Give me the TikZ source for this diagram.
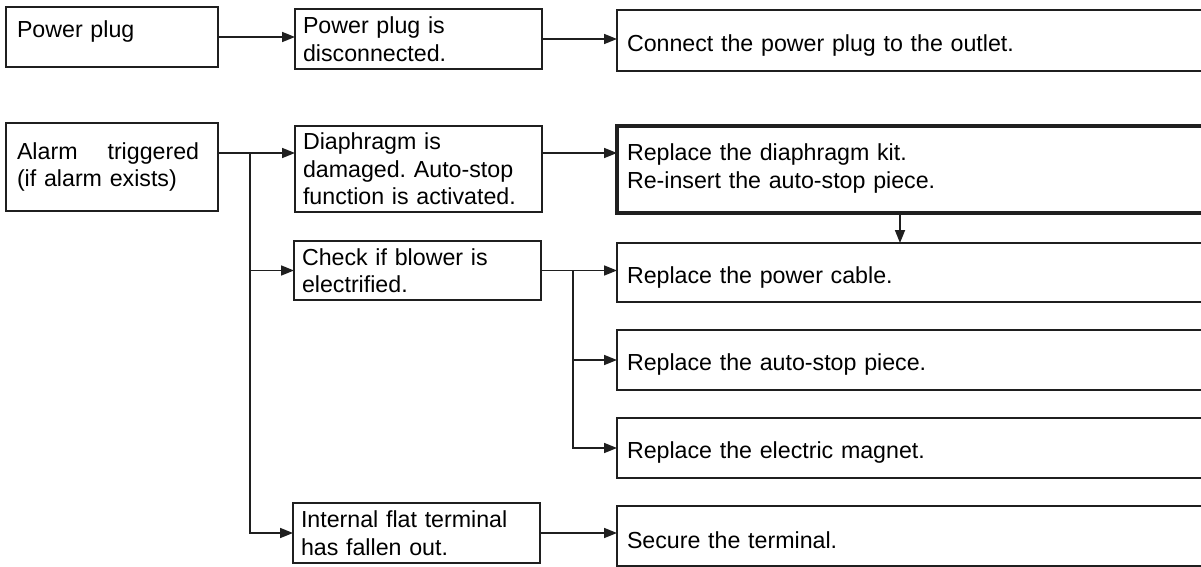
\documentclass[tikz,border=0pt]{standalone}
\usepackage{fontspec}
\setmainfont{Liberation Sans}
\usetikzlibrary{arrows.meta, positioning, calc}
\colorlet{ink}{black!88}
\frenchspacing
\tikzset{
  symptom/.style={
    rectangle, draw=ink, line width=1.8pt, anchor=north west, outer sep=0pt,
    text width=190pt, inner xsep=11pt, inner ysep=0pt, align=left,
    minimum height=60pt
  },
  cause/.style={
    rectangle, draw=ink, line width=1.8pt, anchor=north west, outer sep=0pt,
    text width=231pt, inner xsep=8pt, inner ysep=0pt, align=left,
    minimum height=60pt
  },
  remedy/.style={
    rectangle, draw=ink, line width=1.8pt, outer sep=0pt,
    text width=580pt, inner xsep=10pt, inner ysep=0pt, align=left,
    minimum height=60pt, text height=26pt
  },
  arrow/.style={-{Triangle[length=13pt,width=10pt]}, line width=1.7pt, draw=ink},
  line/.style={line width=1.7pt, draw=ink},
}

\begin{document}
\begin{tikzpicture}[x=1pt, y=-1pt, font=\fontsize{23.2}{27.5}\selectfont, node distance=28pt]
    \useasboundingbox (0,0) rectangle (1201,567);
    \clip (0,0) rectangle (1201,567);
    \fill[white] (0,0) rectangle (1201,567);

    % power plug row
    \node[symptom, text depth=16.5pt] (plug) at (6,7) {Power plug};
    \node[cause] (unplugged) at (295,9) {Power plug is\\disconnected.};
    \node[remedy, anchor=north west, minimum height=61pt] (connect) at (617,10) {Connect the power plug to the outlet.};

    % alarm rows
    \node[symptom, minimum height=88pt] (alarm) at (6,123) {Alarm\hspace{30pt}triggered\\(if alarm exists)};
    \node[cause, minimum height=86pt] (diaphragm) at (295,126) {Diaphragm is\\damaged. Auto-stop\\function is activated.};
    \node[remedy, anchor=north west, minimum height=87pt, text height=15pt, line width=3.5pt] (kit) at (617,126) {Replace the diaphragm kit.\\Re-insert the auto-stop piece.};
    \node[cause, minimum height=59pt] (blower) at (294,241) {Check if blower is\\electrified.};
    \node[cause] (terminal) at (293,503) {Internal flat terminal\\has fallen out.};
    \node[remedy, below=30pt of kit, minimum height=59pt] (cable) {Replace the power cable.};
    \node[remedy, below=of cable] (autostop) {Replace the auto-stop piece.};
    \node[remedy, below=of autostop] (magnet) {Replace the electric magnet.};
    \node[remedy, below=of magnet] (secure) {Secure the terminal.};

    \coordinate (trunk) at (250,153);
    \coordinate (fork) at ($(blower.east)!0.42!(blower.east -| cable.west)$);

    \draw[arrow] (plug.east) -- (plug.east -| unplugged.west);
    \draw[arrow] (unplugged.east) -- (unplugged.east -| connect.west);
    \draw[line] (alarm.east |- trunk) -- (trunk);
    \draw[arrow] (trunk) -- (trunk -| diaphragm.west);
    \draw[arrow] (trunk) |- (terminal.west);
    \draw[arrow] (trunk |- blower.west) -- (blower.west);
    \draw[arrow] (diaphragm.east |- trunk) -- (trunk -| kit.west);
    \draw[arrow] ([xshift=-17pt]kit.south) -- ([xshift=-17pt]cable.north);
    \draw[arrow] (blower.east) -- (blower.east -| cable.west);
    \draw[arrow] (fork) |- (autostop.west);
    \draw[arrow] (fork) |- (magnet.west);
    \draw[arrow] (terminal.east) -- (terminal.east -| secure.west);
\end{tikzpicture}
\end{document}
